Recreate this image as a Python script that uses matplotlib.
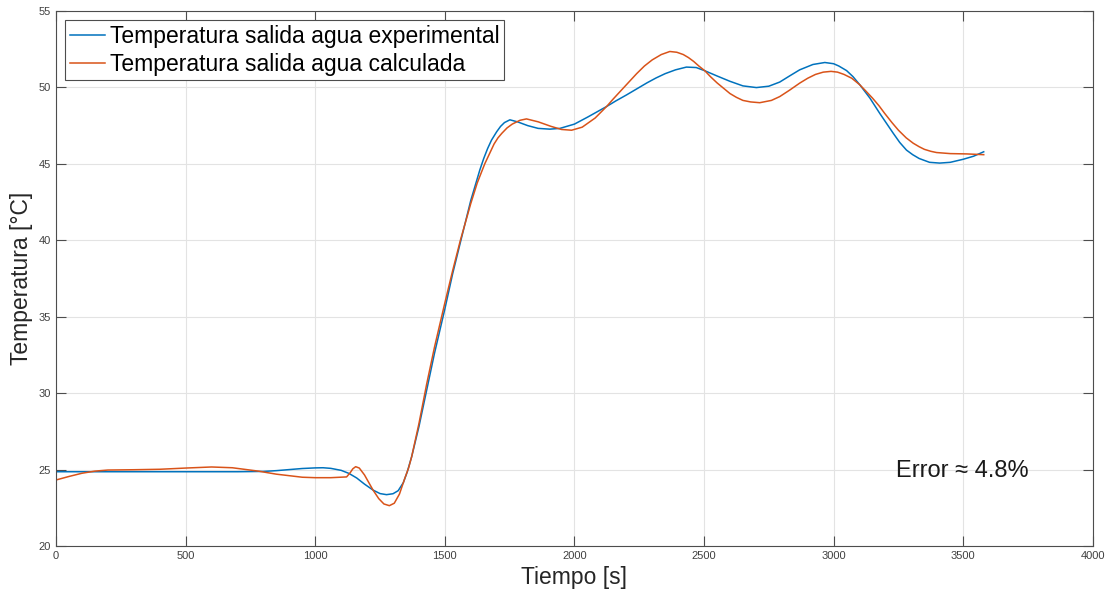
import matplotlib
matplotlib.use("Agg")
import matplotlib.pyplot as plt

plt.rcParams['font.family'] = ['Liberation Sans', 'DejaVu Sans']

# Experimental outlet water temperature
t_exp = [0, 100, 200, 300, 400, 500, 600, 700, 800, 850, 900, 950, 1000, 1030, 1060,
         1100, 1130, 1160, 1190, 1223, 1250, 1275, 1300, 1320, 1340, 1355, 1372, 1400,
         1430, 1460, 1500, 1530, 1562, 1600, 1635, 1650, 1665, 1680, 1700, 1715, 1730,
         1751, 1780, 1820, 1860, 1905, 1944, 2000, 2050, 2124, 2160, 2200, 2240, 2280,
         2315, 2350, 2390, 2432, 2470, 2503, 2550, 2600, 2650, 2702, 2750, 2792, 2830,
         2869, 2920, 2966, 3000, 3020, 3050, 3075, 3101, 3140, 3178, 3230, 3255, 3281,
         3305, 3330, 3370, 3409, 3450, 3500, 3540, 3579]
T_exp = [24.86, 24.86, 24.86, 24.86, 24.86, 24.86, 24.86, 24.86, 24.88, 24.93, 25.0,
         25.07, 25.11, 25.12, 25.08, 24.95, 24.75, 24.45, 24.05, 23.66, 23.43, 23.36,
         23.42, 23.62, 24.15, 24.85, 25.84, 27.8, 30.2, 32.6, 35.5, 37.8, 40.0, 42.6,
         44.6, 45.35, 46.0, 46.55, 47.1, 47.45, 47.7, 47.88, 47.75, 47.5, 47.32, 47.27,
         47.32, 47.6, 48.05, 48.75, 49.12, 49.5, 49.9, 50.3, 50.62, 50.9, 51.15, 51.33,
         51.3, 51.09, 50.75, 50.4, 50.1, 49.99, 50.08, 50.35, 50.75, 51.15, 51.5, 51.63,
         51.55, 51.4, 51.1, 50.7, 50.17, 49.3, 48.3, 47.0, 46.4, 45.9, 45.6, 45.35, 45.1,
         45.05, 45.1, 45.3, 45.5, 45.79]

# Calculated outlet water temperature
t_cal = [0, 50, 100, 150, 200, 300, 400, 500, 600, 680, 780, 850, 900, 950, 1000, 1060,
         1121, 1135, 1145, 1156, 1170, 1190, 1210, 1223, 1245, 1265, 1286, 1305, 1325,
         1345, 1360, 1372, 1400, 1430, 1460, 1500, 1530, 1560, 1600, 1625, 1654, 1690,
         1705, 1720, 1740, 1760, 1790, 1815, 1860, 1910, 1950, 1989, 2030, 2080, 2124,
         2150, 2180, 2210, 2240, 2270, 2300, 2335, 2368, 2395, 2420, 2440, 2460, 2480,
         2503, 2525, 2550, 2575, 2600, 2625, 2650, 2680, 2715, 2760, 2792, 2830, 2869,
         2900, 2930, 2960, 2990, 3015, 3040, 3070, 3101, 3125, 3150, 3175, 3197, 3225,
         3250, 3280, 3307, 3330, 3350, 3375, 3397, 3450, 3513, 3579]
T_cal = [24.32, 24.55, 24.76, 24.9, 24.97, 24.99, 25.02, 25.1, 25.17, 25.12, 24.9, 24.7,
         24.6, 24.5, 24.47, 24.47, 24.52, 24.8, 25.05, 25.19, 25.1, 24.65, 24.05, 23.66,
         23.1, 22.75, 22.64, 22.8, 23.4, 24.4, 25.1, 25.84, 28.0, 30.6, 33.0, 35.9, 38.0,
         40.0, 42.4, 43.75, 45.0, 46.3, 46.7, 47.0, 47.35, 47.6, 47.85, 47.94, 47.75,
         47.45, 47.25, 47.2, 47.4, 48.0, 48.75, 49.25, 49.8, 50.35, 50.9, 51.4, 51.8,
         52.15, 52.35, 52.3, 52.15, 51.95, 51.7, 51.4, 51.09, 50.7, 50.3, 49.95, 49.6,
         49.35, 49.15, 49.05, 49.0, 49.15, 49.4, 49.82, 50.28, 50.6, 50.85, 51.0, 51.05,
         51.0, 50.85, 50.6, 50.17, 49.75, 49.3, 48.8, 48.3, 47.7, 47.2, 46.7, 46.35,
         46.12, 45.95, 45.82, 45.74, 45.67, 45.65, 45.6]

labels = ["Temperatura salida agua experimental", "Temperatura salida agua calculada"]
x_ticks = [0, 500, 1000, 1500, 2000, 2500, 3000, 3500, 4000]
y_ticks = [20, 25, 30, 35, 40, 45, 50, 55]

fig = plt.figure(figsize=(11.14, 5.97), dpi=100)
ax = fig.add_axes([0.0503, 0.0854, 0.9307, 0.8962])

ax.plot(t_exp, T_exp, color='#0072BD', lw=1.1, label=labels[0])
ax.plot(t_cal, T_cal, color='#D95319', lw=1.1, label=labels[1])

ax.set_xlim(0, 4000)
ax.set_ylim(20, 55)
ax.set_xticks(x_ticks)
ax.set_yticks(y_ticks)
ax.grid(True, color='#e3e3e3', lw=0.8)
ax.set_axisbelow(True)
ax.tick_params(direction='in', length=7, width=0.8, color='#4d4d4d',
               labelsize=8, labelcolor='#404040', top=True, right=True)
for s in ax.spines.values():
    s.set_color('#4d4d4d')
    s.set_linewidth(0.8)

ax.set_xlabel("Tiempo [s]", fontsize=16.5, color='#262626', labelpad=4)
ax.set_ylabel("Temperatura [°C]", fontsize=16.5, color='#262626', labelpad=4)

ax.text(3242, 24.9, "Error ≈ 4.8%", fontsize=17, va='center', ha='left',
        color='#1a1a1a')

leg = ax.legend(loc='upper left', bbox_to_anchor=(0.0087, 0.983), borderaxespad=0,
                fontsize=16.5, fancybox=False, framealpha=1, edgecolor='#4d4d4d',
                handlelength=1.55, handletextpad=0.22, borderpad=0.2, labelspacing=0.22)
leg.get_frame().set_linewidth(0.8)

fig.savefig("out.png", dpi=100)
